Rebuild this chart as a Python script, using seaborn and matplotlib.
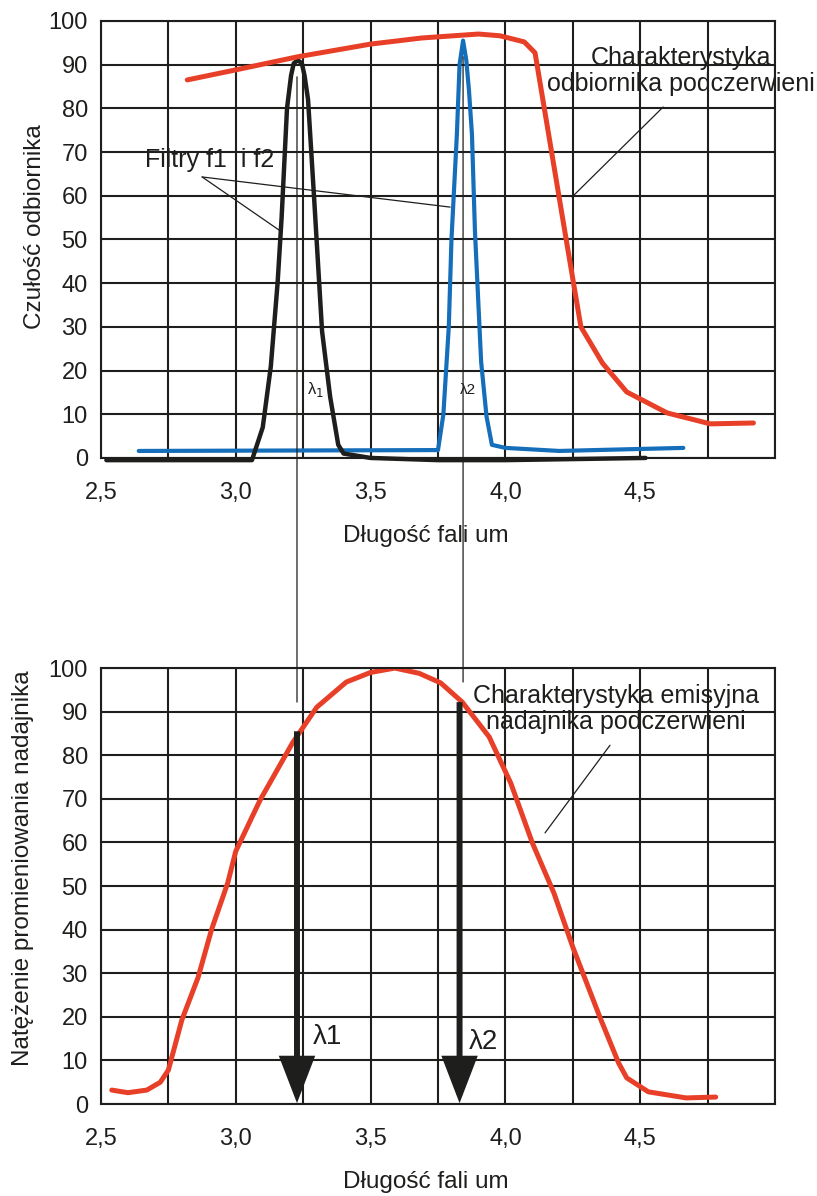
import numpy as np
import matplotlib
matplotlib.use("Agg")
import matplotlib.pyplot as plt
from matplotlib.patches import ConnectionPatch
import seaborn as sns

# Dane
x_ticks = [2.5, 2.75, 3.0, 3.25, 3.5, 3.75, 4.0, 4.25, 4.5, 4.75, 5.0]
x_labels = ["2,5", "", "3,0", "", "3,5", "", "4,0", "", "4,5", "", ""]
y_ticks = [0, 10, 20, 30, 40, 50, 60, 70, 80, 90, 100]

# Charakterystyka odbiornika podczerwieni
odb_x = [2.82, 3.0, 3.23, 3.5, 3.69, 3.9, 3.98, 4.07, 4.11, 4.22, 4.28, 4.36, 4.45, 4.6, 4.76, 4.92]
odb_y = [86.5, 88.8, 91.8, 94.7, 96.1, 97.0, 96.6, 95.2, 92.7, 52.0, 30.0, 21.7, 15.1, 10.3, 7.8, 8.0]

# Filtr f1 (czarny)
f1_x = [2.52, 3.06, 3.10, 3.13, 3.155, 3.17, 3.19, 3.205, 3.215, 3.23, 3.245, 3.255, 3.268,
        3.29, 3.32, 3.35, 3.38, 3.40, 3.5, 3.75, 4.0, 4.52]
f1_y = [-0.5, -0.5, 7, 21, 40, 55, 80, 87.5, 90.3, 91, 90.3, 87.5, 82,
        60, 29, 14, 3, 1, 0, -0.5, -0.5, 0]

# Filtr f2 (niebieski)
f2_x = [2.64, 3.75, 3.77, 3.79, 3.80, 3.82, 3.83, 3.843, 3.855, 3.865, 3.876, 3.887,
        3.91, 3.93, 3.95, 4.0, 4.2, 4.66]
f2_y = [1.6, 1.8, 10, 30, 50, 74, 90, 95.5, 91, 84, 74, 52,
        22, 9.5, 3, 2.3, 1.6, 2.3]

# Charakterystyka emisyjna nadajnika
nad_x = [2.54, 2.6, 2.67, 2.72, 2.75, 2.80, 2.86, 2.91, 2.97, 3.0, 3.09, 3.21, 3.30, 3.41, 3.50,
         3.59, 3.68, 3.76, 3.84, 3.94, 4.02, 4.10, 4.18, 4.25, 4.35, 4.42, 4.45, 4.53, 4.67, 4.78]
nad_y = [3.2, 2.6, 3.2, 5.0, 7.8, 19.3, 29, 40, 50.7, 58, 69.7, 82.8, 91, 96.8, 99,
         100, 98.8, 96.6, 92.2, 84.2, 73.6, 59.9, 48.4, 36, 20, 9.4, 6, 2.8, 1.4, 1.6]

lambda1 = 3.227
lambda2 = 3.83

RED = "#E84028"
BLUE = "#146EB9"
BLACK = "#1E1E1C"

sns.set_style("white")
plt.rcParams["font.family"] = ["Liberation Sans", "DejaVu Sans"]

fig = plt.figure(figsize=(8.17, 11.96), dpi=100)
ax1 = fig.add_axes([0.1236, 0.6171, 0.825, 0.3654])
ax2 = fig.add_axes([0.1236, 0.0769, 0.825, 0.3645])


def styl_osi(ax, ylabel):
    ax.set_xlim(2.5, 5.0)
    ax.set_ylim(0, 100)
    ax.set_xticks(x_ticks)
    ax.set_xticklabels(x_labels)
    ax.set_yticks(y_ticks)
    ax.set_yticklabels([str(v) for v in y_ticks])
    ax.tick_params(axis="both", length=0, labelsize=17, colors=BLACK)
    ax.tick_params(axis="x", pad=17)
    ax.tick_params(axis="y", pad=9.5)
    ax.grid(True, color=BLACK, linewidth=1.5)
    ax.set_axisbelow(True)
    for s in ax.spines.values():
        s.set_visible(True)
        s.set_color(BLACK)
        s.set_linewidth(1.5)
    ax.set_xlabel("Długość fali um", fontsize=17.5, color=BLACK)
    ax.xaxis.set_label_coords(0.482, -0.153)
    ax.set_ylabel(ylabel, fontsize=17.5, color=BLACK)


# ---------------- Wykres górny ----------------
styl_osi(ax1, "Czułość odbiornika")
ax1.yaxis.set_label_coords(-0.082, 0.53)
sns.lineplot(x=f2_x, y=f2_y, ax=ax1, color=BLUE, linewidth=3.0, sort=False, clip_on=False)
sns.lineplot(x=f1_x, y=f1_y, ax=ax1, color=BLACK, linewidth=3.2, sort=False, clip_on=False)
sns.lineplot(x=odb_x, y=odb_y, ax=ax1, color=RED, linewidth=3.6, sort=False, clip_on=False)

ax1.text(2.904, 68.2, "Filtry f1  i f2", fontsize=18, color=BLACK, ha="center", va="center")
ax1.plot([2.875, 3.171], [64.3, 51.7], color=BLACK, lw=0.9)
ax1.plot([2.875, 3.795], [64.3, 57.4], color=BLACK, lw=0.9)

ax1.text(4.651, 88.6, "Charakterystyka\nodbiornika podczerwieni", fontsize=18, color=BLACK,
         ha="center", va="center", linespacing=1.1, clip_on=False)
ax1.plot([4.585, 4.247], [80.3, 59.7], color=BLACK, lw=0.9)

ax1.text(3.297, 15.6, "λ$_1$", fontsize=12, color=BLACK, ha="center", va="center")
ax1.text(3.861, 15.6, "λ2", fontsize=11, color=BLACK, ha="center", va="center")

# ---------------- Wykres dolny ----------------
styl_osi(ax2, "Natężenie promieniowania nadajnika")
ax2.yaxis.set_label_coords(-0.100, 0.54)
sns.lineplot(x=nad_x, y=nad_y, ax=ax2, color=RED, linewidth=3.6, sort=False)

for lam, top in [(lambda1, 85.5), (lambda2, 92.2)]:
    ax2.annotate("", xy=(lam, 0.2), xytext=(lam, top),
                 arrowprops=dict(arrowstyle="-|>,head_length=1.3,head_width=0.5",
                                 mutation_scale=20, lw=4.3, color=BLACK,
                                 joinstyle="miter", capstyle="butt",
                                 shrinkA=0, shrinkB=0))

ax2.text(3.342, 15.4, "λ1", fontsize=20, color=BLACK, ha="center", va="center")
ax2.text(3.917, 14.2, "λ2", fontsize=20, color=BLACK, ha="center", va="center")

ax2.text(4.41, 90.6, "Charakterystyka emisyjna\nnadajnika podczerwieni", fontsize=18,
         color=BLACK, ha="center", va="center", linespacing=1.15)
ax2.plot([4.388, 4.147], [82.3, 62.2], color=BLACK, lw=0.9)

# Linie łączące oba wykresy
for xa, ya, yb in [(lambda1, 87.2, 92.2), (3.843, 91.8, 96.8)]:
    con = ConnectionPatch(xyA=(xa, ya), coordsA=ax1.transData,
                          xyB=(xa, yb), coordsB=ax2.transData,
                          color=BLACK, lw=0.9)
    fig.add_artist(con)

fig.savefig("out.png", dpi=100, facecolor="white")
